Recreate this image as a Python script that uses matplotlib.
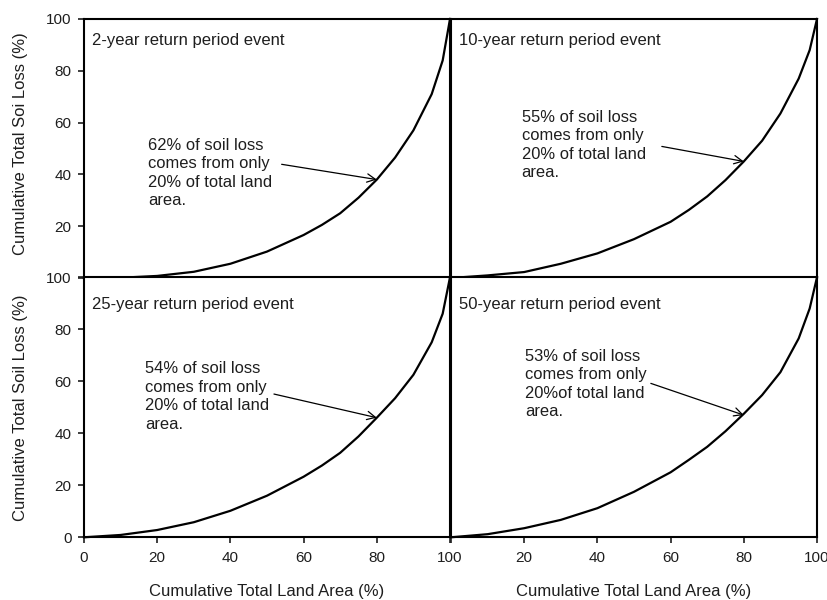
import matplotlib
matplotlib.use("Agg")
import matplotlib.pyplot as plt

plt.rcParams['font.family'] = ['Liberation Sans', 'DejaVu Sans']

# Data
land_area = [0, 10, 20, 30, 40, 50, 60, 65, 70, 75, 80, 85, 90, 95, 98, 100]
loss_2yr = [0, 0.1, 0.8, 2.4, 5.5, 10.2, 16.6, 20.5, 25, 31, 38, 46.5, 57, 71, 84, 100]
loss_10yr = [0, 1, 2.3, 5.5, 9.5, 15, 21.7, 26.3, 31.5, 37.8, 45, 53, 63.5, 77, 88, 100]
loss_25yr = [0, 0.9, 2.8, 5.8, 10.2, 16, 23.3, 27.6, 32.5, 38.8, 46, 53.5, 62.5, 75, 86, 100]
loss_50yr = [0, 1.2, 3.5, 6.7, 11.2, 17.5, 25, 29.8, 34.8, 40.8, 47.5, 54.7, 63.5, 76.5, 88, 100]

titles = ["2-year return period event", "10-year return period event",
          "25-year return period event", "50-year return period event"]
notes = ["62% of soil loss\ncomes from only\n20% of total land\narea.",
         "55% of soil loss\ncomes from only\n20% of total land\narea.",
         "54% of soil loss\ncomes from only\n20% of total land\narea.",
         "53% of soil loss\ncomes from only\n20%of total land\narea."]
note_xy = [(17.6, 54.2), (19.3, 65.0), (16.7, 67.8), (20.2, 72.6)]
arrow_from = [(54, 43.9), (57.6, 50.8), (51.9, 55.1), (54.6, 59.2)]
arrow_to = [(80, 38), (80, 45), (80, 46), (80, 47)]
ticks = [0, 20, 40, 60, 80, 100]

series = [loss_2yr, loss_10yr, loss_25yr, loss_50yr]

fig = plt.figure(figsize=(8.28, 6.0), dpi=100)
W, H = 828, 600
lefts = [84, 451]
widths = 366
tops = [19, 277.3]
heights = [259, 260]

txt_color = '#1e1e1e'
axes = []
for r in range(2):
    for c in range(2):
        l = lefts[c] / W
        b = 1 - (tops[r] + heights[r]) / H
        ax = fig.add_axes([l, b, widths / W, heights[r] / H])
        axes.append(ax)

for i, ax in enumerate(axes):
    r, c = divmod(i, 2)
    ax.plot(land_area, series[i], color='black', lw=1.6, clip_on=False,
            solid_joinstyle='round')
    ax.set_xlim(0, 100)
    ax.set_ylim(0, 100)
    ax.set_xticks(ticks)
    ax.set_yticks(ticks)
    for s in ax.spines.values():
        s.set_linewidth(1.5)
    ax.tick_params(direction='out', length=4, width=1.2, labelsize=11,
                   colors=txt_color, pad=5)
    ax.tick_params(axis='x', pad=6)
    if c == 0:
        ax.tick_params(axis='y', right=True)
    else:
        ax.tick_params(axis='y', left=False, labelleft=False)
    if r == 0:
        ax.tick_params(axis='x', labelbottom=False)
        if c == 0:
            ax.set_yticklabels([''] + [str(t) for t in ticks[1:]])
    else:
        if c == 1:
            ax.set_xticklabels([''] + [str(t) for t in ticks[1:]])
        ax.set_xlabel("Cumulative Total Land Area (%)", fontsize=12, color=txt_color)
        ax.xaxis.set_label_coords(0.5, -0.178)
    if c == 0:
        ax.set_ylabel("Cumulative Total Soi Loss (%)" if r == 0 else
                      "Cumulative Total Soil Loss (%)", fontsize=12, color=txt_color)
        ax.yaxis.set_label_coords(-0.153, 0.52 if r == 0 else 0.5)
    ax.text(0.023, 0.945 if r == 0 else 0.925, titles[i], transform=ax.transAxes,
            ha='left', va='top', fontsize=12, color=txt_color)
    ax.text(note_xy[i][0], note_xy[i][1], notes[i], ha='left', va='top',
            fontsize=11.9, color=txt_color, linespacing=1.3)
    ax.annotate("", xy=arrow_to[i], xytext=arrow_from[i],
                arrowprops=dict(arrowstyle='->', color='black', lw=0.9,
                                mutation_scale=15, shrinkA=0, shrinkB=0))

fig.savefig("out.png", dpi=100)
